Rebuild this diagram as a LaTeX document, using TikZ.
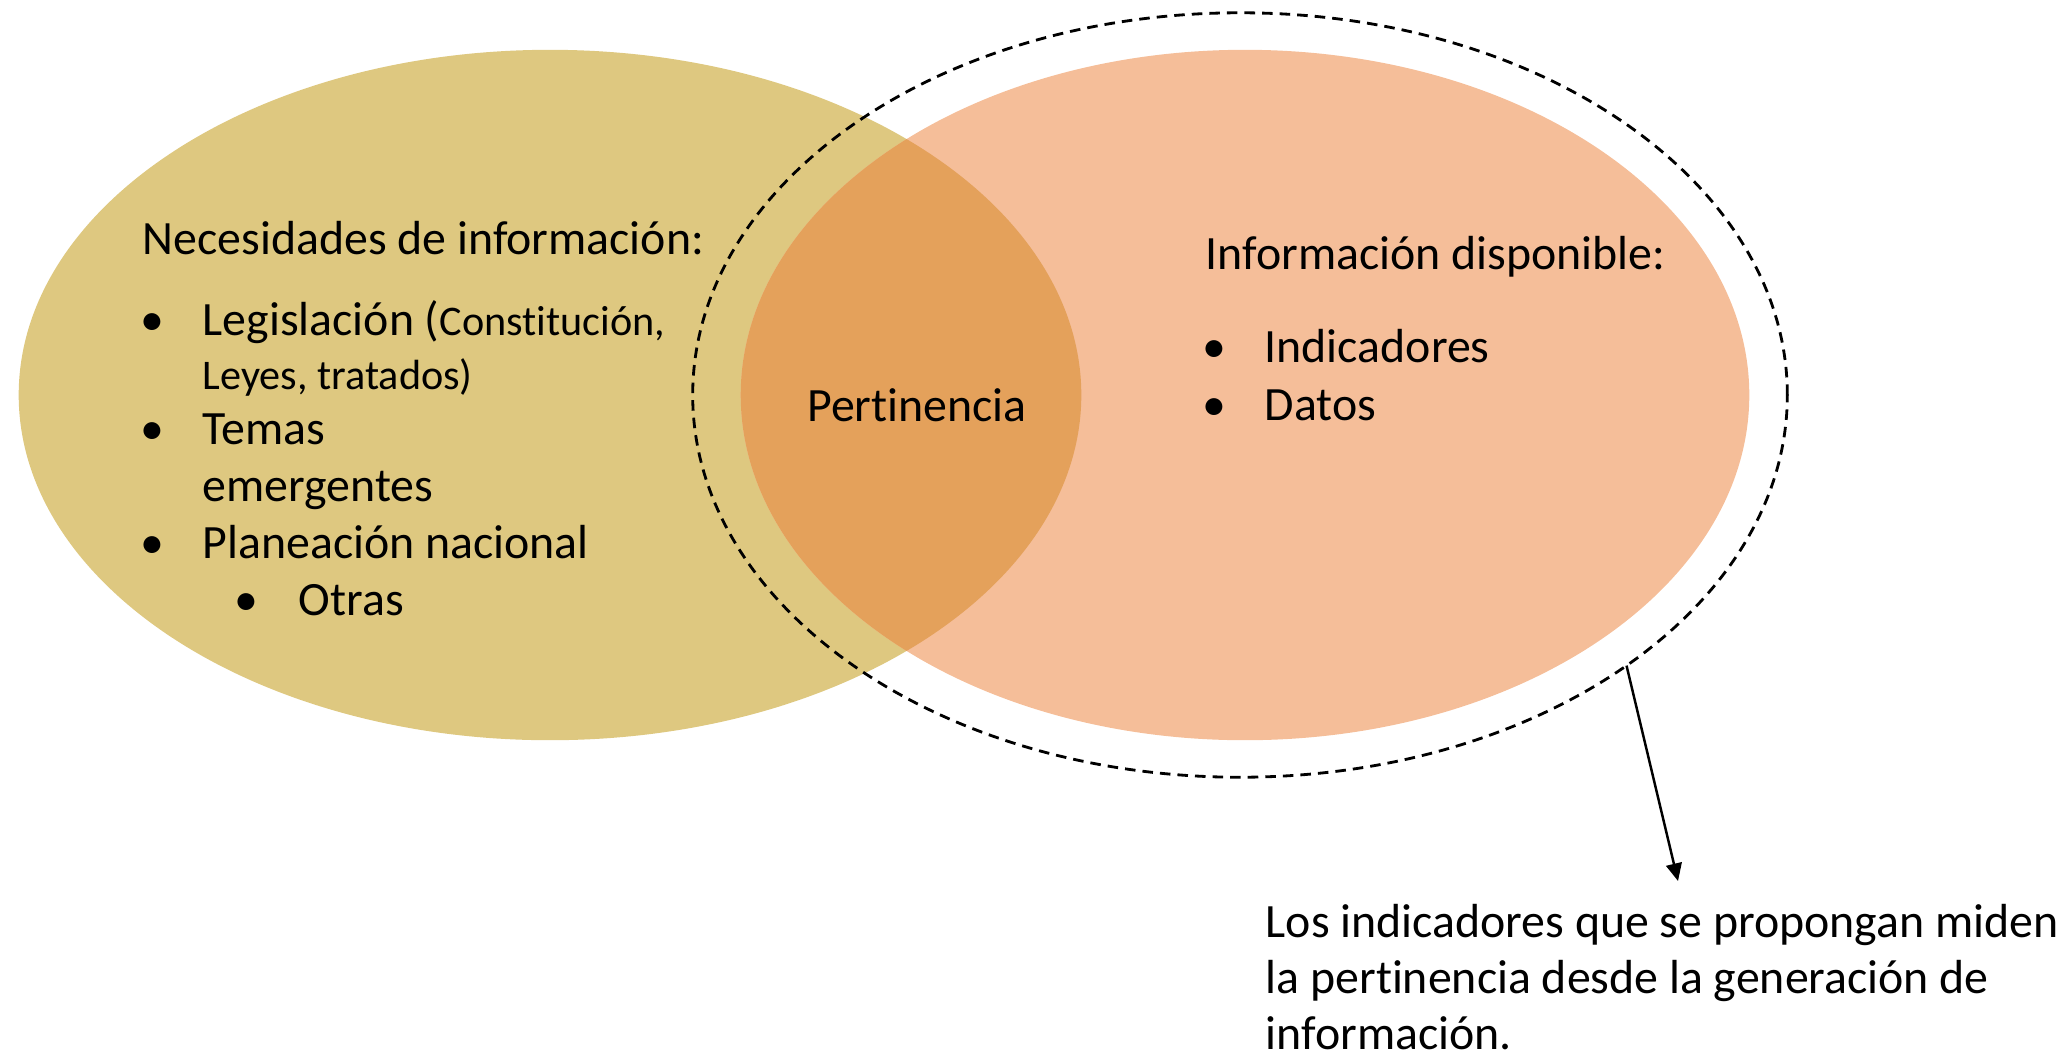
\documentclass[tikz,border=0pt]{standalone}
\usepackage{fontspec}
\setmainfont{Carlito}[Ligatures=NoCommon]
\usetikzlibrary{arrows.meta, positioning, shapes, calc}

\definecolor{necesidad}{HTML}{DEC880}
\definecolor{disponible}{HTML}{F5BE99}
\definecolor{traslape}{HTML}{E4A15B}

\begin{document}
\begin{tikzpicture}[x=0.01cm, y=-0.01cm,
    texto/.style={font=\fontsize{13.6}{16.3}\selectfont, inner sep=0pt, anchor=base west},
    chico/.style={texto, font=\fontsize{12}{14.4}\selectfont},
    vineta/.style={texto, anchor=base},
    conjunto/.style={ellipse, inner sep=0pt, outer sep=0pt}]
    \useasboundingbox (0,0) rectangle (2067,1057);

    % conjuntos
    \node[conjunto, fill=necesidad, minimum width=10.62cm, minimum height=6.9cm] (necesidades) at (550,395) {};
    \node[conjunto, fill=disponible, minimum width=10.08cm, minimum height=6.9cm] (disponible) at (1245,395) {};
    \begin{scope}
        \clip (550,395) ellipse [x radius=5.31cm, y radius=3.45cm];
        \fill[traslape] (1245,395) ellipse [x radius=5.04cm, y radius=3.45cm];
    \end{scope}
    \node[conjunto, draw, line width=0.8pt, dash pattern=on 3pt off 2pt, minimum width=10.94cm, minimum height=7.64cm] (marco) at (1240,395) {};

    % necesidades de informacion
    \node[texto] (titnec) at (142,254) {Necesidades de información:};
    \node[vineta] (b1) at (152,335) {•};
    \node[texto] (leg) at (202,335) {Legislación ({\fontsize{12}{14.4}\selectfont Constitución,}};
    \node[chico] (leyes) at (202,389) {Leyes, tratados)};
    \node[vineta] (b2) at (152,444) {•};
    \node[texto] (temas) at (202,444) {Temas};
    \node[texto] (emerg) at (202,501) {emergentes};
    \node[vineta] (b3) at (152,558) {•};
    \node[texto] (plan) at (202,558) {Planeación nacional};
    \node[vineta] (b4) at (246,615) {•};
    \node[texto] (otras) at (298,615) {Otras};

    \node[texto, anchor=base] (pert) at (917,421) {Pertinencia};

    % informacion disponible
    \node[texto] (titdisp) at (1205,269) {Información disponible:};
    \node[vineta] (b5) at (1214,362) {•};
    \node[texto] (indic) at (1264,362) {Indicadores};
    \node[vineta] (b6) at (1214,420) {•};
    \node[texto] (datos) at (1264,420) {Datos};

    % nota
    \node[texto] (nota1) at (1265,937) {Los indicadores que se propongan miden};
    \node[texto] (nota2) at (1265,993) {la pertinencia desde la generación de};
    \node[texto] (nota3) at (1265,1049) {información.};
    \coordinate (flecha) at (1678,881);
    \draw[-{Triangle[length=5pt, width=4.5pt]}, line width=0.7pt] (marco.-35) -- (flecha);
\end{tikzpicture}
\end{document}
